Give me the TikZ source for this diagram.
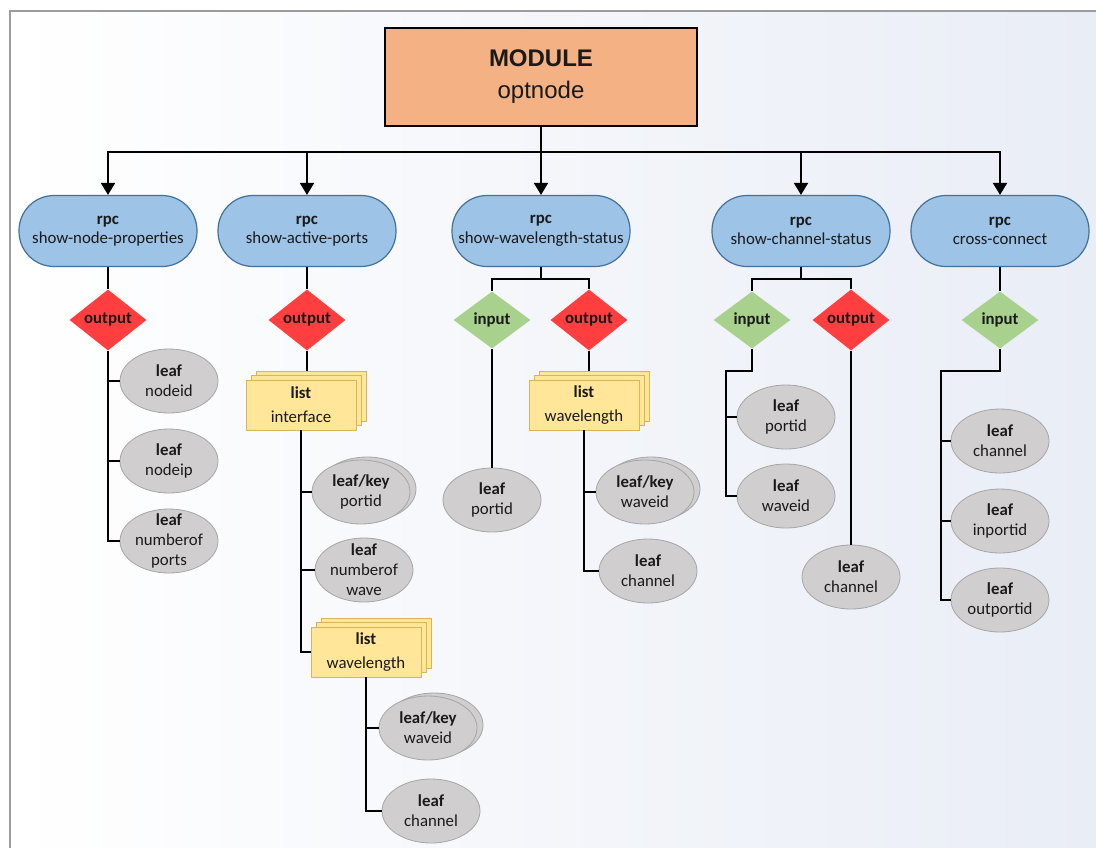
\documentclass[tikz,border=0pt]{standalone}
\usepackage{fontspec}
\setmainfont{Carlito}
\newfontfamily\headfont{Liberation Sans}
\usetikzlibrary{arrows.meta,shapes.geometric,shadows}

\definecolor{modfill}{HTML}{F4B183}
\definecolor{rpcfill}{HTML}{9DC3E6}
\definecolor{rpcdraw}{HTML}{41719C}
\definecolor{outfill}{HTML}{FF3F3F}
\definecolor{infill}{HTML}{A9D18E}
\definecolor{listfill}{HTML}{FFE699}
\definecolor{listdraw}{HTML}{D6B656}
\definecolor{leaffill}{HTML}{D0CECE}
\definecolor{leafdraw}{HTML}{A6A6A6}
\definecolor{txt}{HTML}{1A1A1A}
\definecolor{bgblue}{HTML}{E9EDF6}
\definecolor{framegray}{HTML}{9C9C9C}

% ellipse drawn at a fixed size, text set on top of it
\newcommand\leafat[4][leafshape]{%
  \node[#1] (#2) at (#3) {};
  \node[leaftext] (#2-t) at (#2.center) {#4};}

\begin{document}
\begin{tikzpicture}[x=1pt,y=-1pt,
  every node/.style={text=txt, font=\fontsize{16.8}{19.5}\selectfont, align=center, inner sep=0pt},
  module/.style={draw=black, line width=2.4pt, fill=modfill, minimum width=312pt, minimum height=98pt,
    font=\headfont\fontsize{24}{32}\selectfont},
  rpc/.style={draw=rpcdraw, line width=1.2pt, fill=rpcfill, rounded corners=35pt,
    minimum width=178pt, minimum height=71pt},
  outd/.style={diamond, fill=outfill, minimum width=77pt, minimum height=57pt},
  ind/.style={diamond, fill=infill, minimum width=77pt, minimum height=57pt},
  listbox/.style={draw=listdraw, line width=0.8pt, fill=listfill, minimum width=110pt, minimum height=50pt,
    font=\fontsize{16.8}{24}\selectfont,
    general shadow={shadow xshift=10pt, shadow yshift=9pt, fill=listfill, draw=listdraw, line width=0.8pt},
    general shadow={shadow xshift=5pt, shadow yshift=4.5pt, fill=listfill, draw=listdraw, line width=0.8pt}},
  leafshape/.style={ellipse, draw=leafdraw, line width=0.8pt, fill=leaffill, minimum width=98pt, minimum height=64pt},
  keyshape/.style={leafshape,
    general shadow={shadow xshift=6pt, shadow yshift=3pt, fill=leaffill, draw=leafdraw, line width=0.8pt}},
  leaftext/.style={font=\fontsize{16.8}{20}\selectfont},
  conn/.style={draw=black, line width=2pt},
  arrow/.style={conn, -{Triangle[width=14pt,length=12pt]}},
]
\useasboundingbox (0,0) rectangle (1096,847);

% page background and frame
\fill[white] (0,0) rectangle (1096,847);
\shade[left color=white, right color=bgblue] (10,11) rectangle (1096,847);
\draw[framegray, line width=2pt] (1120,11) -- (10,11) -- (10,870);

% module
\node[module] (mod) at (541,77) {\textbf{MODULE}\\optnode};

% rpc nodes
\node[rpc] (rpc1) at (108,231) {\textbf{rpc}\\show-node-properties};
\node[rpc] (rpc2) at (307,231) {\textbf{rpc}\\show-active-ports};
\node[rpc] (rpc3) at (541,231) {\textbf{rpc}\\show-wavelength-status};
\node[rpc] (rpc4) at (801,231) {\textbf{rpc}\\show-channel-status};
\node[rpc] (rpc5) at (1000,231) {\textbf{rpc}\\cross-connect};

% input / output diamonds
\node[outd] (o1) at (108,320) {\textbf{output}};
\node[outd] (o2) at (307,320) {\textbf{output}};
\node[ind]  (i3) at (492,320) {\textbf{input}};
\node[outd] (o3) at (589,320) {\textbf{output}};
\node[ind]  (i4) at (752,320) {\textbf{input}};
\node[outd] (o4) at (851,320) {\textbf{output}};
\node[ind]  (i5) at (1000,320) {\textbf{input}};

% lists
\node[listbox] (li1) at (301,405) {\textbf{list}\\interface};
\node[listbox] (lw2) at (366,652) {\textbf{list}\\wavelength};
\node[listbox] (lw3) at (584,405) {\textbf{list}\\wavelength};

% leaves
\leafat{l11}{169,381}{\textbf{leaf}\\nodeid}
\leafat{l12}{169,461}{\textbf{leaf}\\nodeip}
\leafat{l13}{169,541}{\textbf{leaf}\\numberof\\ports}
\leafat[keyshape]{k21}{361,492}{\textbf{leaf/key}\\portid}
\leafat{l22}{364,570}{\textbf{leaf}\\numberof\\wave}
\leafat[keyshape]{k23}{428,728}{\textbf{leaf/key}\\waveid}
\leafat{l24}{431,811}{\textbf{leaf}\\channel}
\leafat{l31}{492,500}{\textbf{leaf}\\portid}
\leafat[keyshape]{k32}{645,492}{\textbf{leaf/key}\\waveid}
\leafat{l33}{648,571}{\textbf{leaf}\\channel}
\leafat{l41}{786,417}{\textbf{leaf}\\portid}
\leafat{l42}{786,496}{\textbf{leaf}\\waveid}
\leafat{l43}{851,577}{\textbf{leaf}\\channel}
\leafat{l51}{1000,441}{\textbf{leaf}\\channel}
\leafat{l52}{1000,521}{\textbf{leaf}\\inportid}
\leafat{l53}{1000,600}{\textbf{leaf}\\outportid}

% module to rpc bus
\coordinate (bus) at (541,152);
\draw[conn] (mod.south) -- (bus);
\draw[conn] (rpc2.north |- bus) -- (rpc4.north |- bus);
\draw[arrow] (rpc2.north |- bus) -| (rpc1.north);
\draw[arrow] (rpc4.north |- bus) -| (rpc5.north);
\draw[arrow] (rpc2.north |- bus) -- (rpc2.north);
\draw[arrow] (bus) -- (rpc3.north);
\draw[arrow] (rpc4.north |- bus) -- (rpc4.north);

% show-node-properties
\draw[conn] (rpc1.south) -- (o1.north);
\draw[conn] (o1.south) |- (l13.west);
\draw[conn] (l11.west) -- (l11.west -| o1.south);
\draw[conn] (l12.west) -- (l12.west -| o1.south);

% show-active-ports
\draw[conn] (rpc2.south) -- (o2.north);
\draw[conn] (o2.south) -- ([yshift=9pt]li1.north -| o2.south);
\draw[conn] (li1.south) |- (lw2.west);
\draw[conn] (k21.west) -- (k21.west -| li1.south);
\draw[conn] (l22.west) -- (l22.west -| li1.south);
\draw[conn] (lw2.south) |- (l24.west);
\draw[conn] (k23.west) -- (k23.west -| lw2.south);

% show-wavelength-status
\draw[conn] (rpc3.south) -- ++(0,12) coordinate (b3);
\draw[conn] (i3.north) |- (b3) -| (o3.north);
\draw[conn] (i3.south) -- (l31.north);
\draw[conn] (o3.south) -- ([yshift=9pt]lw3.north -| o3.south);
\draw[conn] (lw3.south) |- (l33.west);
\draw[conn] (k32.west) -- (k32.west -| lw3.south);

% show-channel-status
\draw[conn] (rpc4.south) -- ++(0,12) coordinate (b4);
\draw[conn] (i4.north) |- (b4) -| (o4.north);
\coordinate (s4) at (726,371);
\draw[conn] (i4.south) |- (s4) |- (l42.west);
\draw[conn] (l41.west) -- (l41.west -| s4);
\draw[conn] (o4.south) -- (l43.north);

% cross-connect
\draw[conn] (rpc5.south) -- (i5.north);
\coordinate (s5) at (941,371);
\draw[conn] (i5.south) |- (s5) |- (l53.west);
\draw[conn] (l51.west) -- (l51.west -| s5);
\draw[conn] (l52.west) -- (l52.west -| s5);
\end{tikzpicture}
\end{document}
